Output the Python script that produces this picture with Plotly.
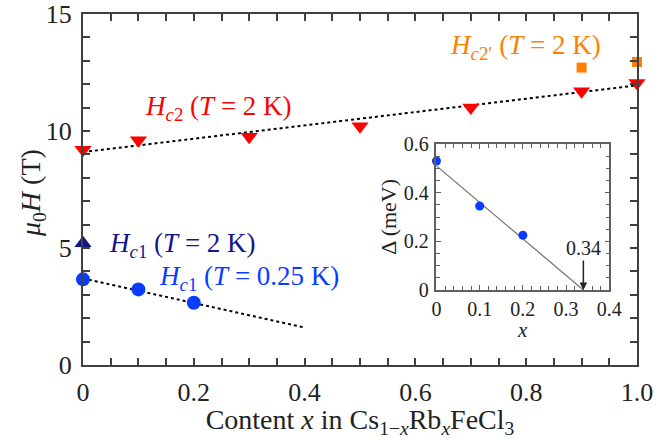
import plotly.graph_objects as go

# ---- data ----
hc2_x = [0.0, 0.1, 0.3, 0.5, 0.7, 0.9, 1.0]
hc2_y = [9.2, 9.6, 9.75, 10.2, 11.0, 11.7, 12.05]
hc2p_x = [0.9, 1.0]
hc2p_y = [12.71, 12.95]
hc1_2k_x = [0.0]
hc1_2k_y = [5.2]
hc1_025k_x = [0.0, 0.1, 0.2]
hc1_025k_y = [3.66, 3.23, 2.66]
fit_hc2_x = [0.0, 1.0]
fit_hc2_y = [9.1, 11.95]
fit_hc1_x = [0.0, 0.4]
fit_hc1_y = [3.7, 1.6]
gap_x = [0.0, 0.1, 0.2]
gap_y = [0.53, 0.345, 0.225]
fit_gap_x = [0.0, 0.34]
fit_gap_y = [0.51, 0.0]
main_xticks = [0, 0.2, 0.4, 0.6, 0.8, 1.0]
main_xticklabels = ["0", "0.2", "0.4", "0.6", "0.8", "1.0"]
main_yticks = [0, 5, 10, 15]
inset_xticks = [0, 0.1, 0.2, 0.3, 0.4]
inset_xticklabels = ["0", "0.1", "0.2", "0.3", "0.4"]
inset_yticks = [0, 0.2, 0.4, 0.6]
inset_yticklabels = ["0", "0.2", "0.4", "0.6"]

RED = "#ff0000"
ORANGE = "#ff8000"
NAVY = "#14148c"
BLUE = "#0a3cff"
AX = "#404040"
FONT = "Liberation Serif"

fig = go.Figure()
fig.add_trace(go.Scatter(x=fit_hc2_x, y=fit_hc2_y, mode="lines",
                         line=dict(color="black", width=2, dash="dot"), showlegend=False))
fig.add_trace(go.Scatter(x=fit_hc1_x, y=fit_hc1_y, mode="lines",
                         line=dict(color="black", width=2, dash="dot"), showlegend=False))
fig.add_trace(go.Scatter(x=hc2_x, y=hc2_y, mode="markers", cliponaxis=False,
                         marker=dict(symbol="triangle-down", size=15, color=RED), showlegend=False))
fig.add_trace(go.Scatter(x=hc2p_x, y=hc2p_y, mode="markers", cliponaxis=False,
                         marker=dict(symbol="square", size=10, color=ORANGE), showlegend=False))
fig.add_trace(go.Scatter(x=hc1_2k_x, y=hc1_2k_y, mode="markers", cliponaxis=False,
                         marker=dict(symbol="triangle-up", size=15, color=NAVY), showlegend=False))
fig.add_trace(go.Scatter(x=hc1_025k_x, y=hc1_025k_y, mode="markers", cliponaxis=False,
                         marker=dict(symbol="circle", size=14, color=BLUE), showlegend=False))

# inset
fig.add_trace(go.Scatter(x=fit_gap_x, y=fit_gap_y, mode="lines", xaxis="x2", yaxis="y2",
                         line=dict(color="#707070", width=1.2), showlegend=False))
fig.add_trace(go.Scatter(x=gap_x, y=gap_y, mode="markers", xaxis="x2", yaxis="y2", cliponaxis=False,
                         marker=dict(symbol="circle", size=9, color=BLUE), showlegend=False))

common_main = dict(showline=True, linecolor=AX, linewidth=2, mirror="ticks",
                   ticks="inside", ticklen=7, tickwidth=1.5, tickcolor=AX,
                   showgrid=False, zeroline=False, automargin=False,
                   tickfont=dict(family=FONT, size=26, color="#222222"))

fig.update_layout(
    width=668, height=439,
    margin=dict(l=83, r=31, t=14, b=74),
    paper_bgcolor="white", plot_bgcolor="white",
    font=dict(family=FONT, color="#222222"),
    xaxis=dict(range=[0, 1.0], tickvals=main_xticks, ticktext=main_xticklabels,
               minor=dict(dtick=0.05, ticks="inside", ticklen=7, tickwidth=1.5, tickcolor=AX),
               ticklabelstandoff=3,
               title=dict(text="Content <i>x</i> in Cs<sub>1\u2212<i>x</i></sub>Rb<sub><i>x</i></sub>FeCl<sub>3</sub>",
                          font=dict(family=FONT, size=28, color="#222222"), standoff=8),
               **common_main),
    yaxis=dict(range=[0, 15], tickvals=main_yticks,
               minor=dict(dtick=1, ticks="inside", ticklen=7, tickwidth=1.5, tickcolor=AX),
               ticklabelstandoff=4,
               **common_main),
    xaxis2=dict(domain=[0.638, 0.950], anchor="y2", range=[0, 0.4],
                tickvals=inset_xticks, ticktext=inset_xticklabels,
                showline=True, linecolor="#606060", linewidth=1.5, mirror="ticks",
                ticks="inside", ticklen=5, tickwidth=1, tickcolor="#606060",
                minor=dict(dtick=0.02, ticks="inside", ticklen=4, tickwidth=1, tickcolor="#606060"),
                showgrid=False, zeroline=False, ticklabelstandoff=0, automargin=False,
                tickfont=dict(family=FONT, size=20, color="#222222")),
    yaxis2=dict(domain=[0.2137, 0.6296], anchor="x2", range=[0, 0.6],
                tickvals=inset_yticks, ticktext=inset_yticklabels,
                showline=True, linecolor="#606060", linewidth=1.5, mirror="ticks",
                ticks="inside", ticklen=5, tickwidth=1, tickcolor="#606060",
                minor=dict(dtick=0.05, ticks="inside", ticklen=4, tickwidth=1, tickcolor="#606060"),
                showgrid=False, zeroline=False, ticklabelstandoff=2, automargin=False,
                tickfont=dict(family=FONT, size=20, color="#222222")),
)

ann = []
ann.append(dict(xref="paper", yref="paper", x=-0.092, y=0.49, textangle=-90,
                xanchor="center", yanchor="middle",
                text="<i>\u03bc</i><sub>0</sub><i>H</i> (T)", showarrow=False,
                font=dict(family=FONT, size=28, color="#222222")))
ann.append(dict(xref="x", yref="y", x=0.108, y=10.98, xanchor="left", yanchor="middle",
                text="<i>H</i><sub><i>c</i>2</sub> (<i>T</i> = 2 K)", showarrow=False,
                font=dict(family=FONT, size=27, color=RED)))
ann.append(dict(xref="x", yref="y", x=0.659, y=13.59, xanchor="left", yanchor="middle",
                text="<i>H</i><sub><i>c</i>2\u2032</sub> (<i>T</i> = 2 K)", showarrow=False,
                font=dict(family=FONT, size=27, color=ORANGE)))
ann.append(dict(xref="x", yref="y", x=0.043, y=5.13, xanchor="left", yanchor="middle",
                text="<i>H</i><sub><i>c</i>1</sub> (<i>T</i> = 2 K)", showarrow=False,
                font=dict(family=FONT, size=27, color=NAVY)))
ann.append(dict(xref="x", yref="y", x=0.134, y=3.72, xanchor="left", yanchor="middle",
                text="<i>H</i><sub><i>c</i>1</sub> (<i>T</i> = 0.25 K)", showarrow=False,
                font=dict(family=FONT, size=27, color=BLUE)))
# inset titles
ann.append(dict(xref="paper", yref="paper", x=0.552, y=0.4217, textangle=-90,
                xanchor="center", yanchor="middle",
                text="\u0394 (meV)", showarrow=False,
                font=dict(family=FONT, size=22, color="#222222")))
ann.append(dict(xref="paper", yref="paper", x=0.794, y=0.100,
                xanchor="center", yanchor="middle",
                text="<i>x</i>", showarrow=False,
                font=dict(family=FONT, size=21, color="#222222")))
ann.append(dict(xref="x2", yref="y2", x=0.34, y=0.0, ax=0, ay=-42,
                text="0.34", showarrow=True, arrowhead=2, arrowsize=1, arrowwidth=1.5,
                arrowcolor="#222222",
                font=dict(family=FONT, size=20, color="#222222")))
fig.update_layout(annotations=ann)

fig.write_html("out.html", config={"displayModeBar": False},
               post_script="document.body.style.margin='0';")
